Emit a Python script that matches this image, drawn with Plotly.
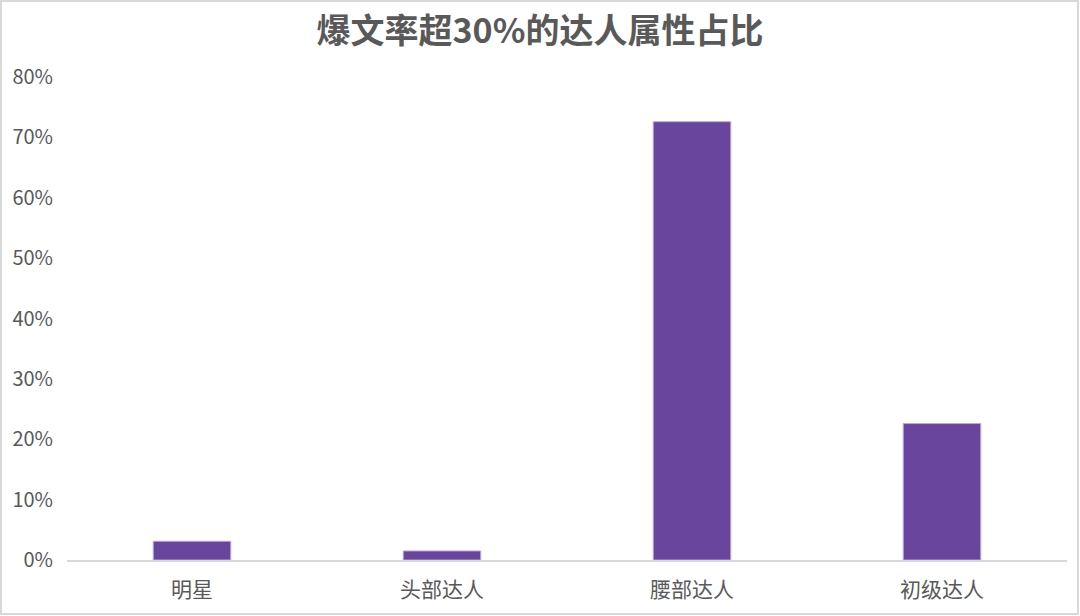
import plotly.graph_objects as go

# data
categories = ["明星", "头部达人", "腰部达人", "初级达人"]
share = [3.1, 1.5, 72.6, 22.6]
y_ticks = [0, 10, 20, 30, 40, 50, 60, 70, 80]
y_tick_labels = [f"{v}%" for v in y_ticks]

W, H = 1080, 616
L, R, T, B = 67, 13, 77, 56

fig = go.Figure()
fig.add_trace(go.Bar(
    x=categories, y=share,
    marker=dict(color="#6a459d", line=dict(color="#b9a6d6", width=1)),
))

# thin grey frame around the whole picture
pw, ph = W - L - R, H - T - B
fig.add_shape(type="rect", xref="paper", yref="paper",
              x0=-(L - 1) / pw, x1=1 + (R - 2) / pw,
              y0=-(B - 2) / ph, y1=1 + (T - 1) / ph,
              line=dict(color="#d9d9d9", width=2), fillcolor="rgba(0,0,0,0)")

fig.update_layout(
    width=W, height=H,
    margin=dict(l=L, r=R, t=T, b=B),
    paper_bgcolor="white", plot_bgcolor="white",
    font=dict(family="Noto Sans CJK SC", color="#595959", size=20),
    title=dict(text="<b>爆文率超30%的达人属性占比</b>", x=0.5, xanchor="center",
               y=1 - 31 / H, yanchor="middle",
               font=dict(size=34, color="#595959")),
    bargap=0.69,
    showlegend=False,
)
fig.update_xaxes(showline=True, linecolor="#d9d9d9", linewidth=2,
                 ticks="", showgrid=False, tickfont=dict(size=21),
                 ticklabelstandoff=10)
fig.update_yaxes(range=[0, 80], tickvals=y_ticks, ticktext=y_tick_labels,
                 showgrid=False, zeroline=False, ticks="", ticklen=0,
                 tickfont=dict(size=20), ticklabelstandoff=13)

# drop the page margin so the figure fills the window
fig.write_html("out.html", config={"displayModeBar": False},
               post_script="document.body.style.margin='0';")
